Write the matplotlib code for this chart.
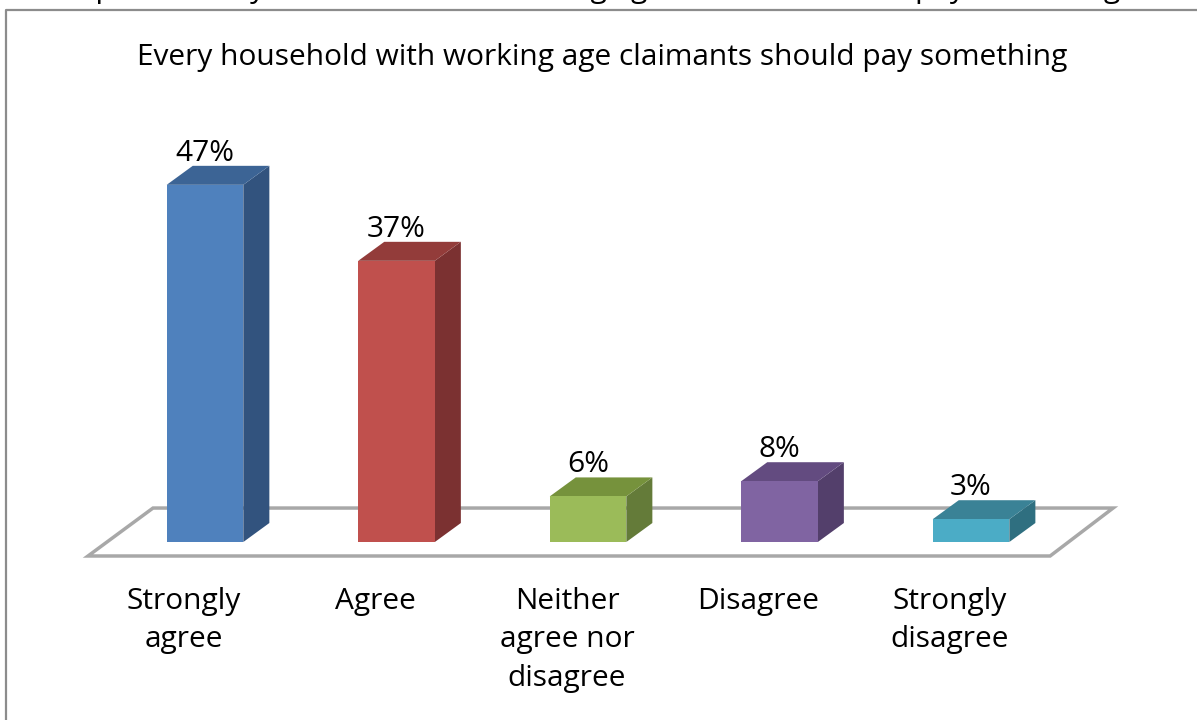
import matplotlib.pyplot as plt
from matplotlib.patches import Polygon
from matplotlib.lines import Line2D

plt.rcParams['font.family'] = ['Open Sans', 'DejaVu Sans']

categories = ["Strongly\nagree", "Agree", "Neither\nagree nor\ndisagree", "Disagree", "Strongly\ndisagree"]
values = [47, 37, 6, 8, 3]
labels = ["47%", "37%", "6%", "8%", "3%"]
front_colors = ["#4F81BD", "#C0504D", "#9BBB59", "#8064A2", "#4BACC6"]
side_colors = ["#32537e", "#7b3131", "#647b39", "#533f6b", "#2f6f80"]
top_colors = ["#3c6495", "#933c3a", "#76923c", "#634b80", "#3a8296"]

title = "Every household with working age claimants should pay something"
caption = "Graph 10: Every household with working age claimants should pay something"

fig = plt.figure(figsize=(11.97, 7.2), dpi=100)
ax = fig.add_axes([0, 0, 1, 1])
ax.set_xlim(-1.0705, 5.180)
ax.set_ylim(-23.42, 71.32)
ax.axis("off")

width = 0.40      # front face width (category units)
ddx = 0.136       # depth offset, x
ddy = 2.5         # depth offset, y (percent units)
fs = 21.5

# floor of the 3-D plot area
floor = Polygon([(-0.611, -1.84), (4.413, -1.84), (4.742, 4.47), (-0.2715, 4.47)],
                closed=True, facecolor="white", edgecolor="#a8a8a8", linewidth=2.5,
                zorder=1, joinstyle="miter")
ax.add_patch(floor)

for i, v in enumerate(values):
    x0 = i - width / 2
    x1 = i + width / 2
    ax.bar(i, v, width=width, bottom=0, color=front_colors[i], zorder=3)
    side = Polygon([(x1, 0), (x1 + ddx, ddy), (x1 + ddx, v + ddy), (x1, v)],
                   closed=True, facecolor=side_colors[i], edgecolor="none", zorder=2)
    top = Polygon([(x0, v), (x1, v), (x1 + ddx, v + ddy), (x0 + ddx, v + ddy)],
                  closed=True, facecolor=top_colors[i], edgecolor="none", zorder=2)
    ax.add_patch(side)
    ax.add_patch(top)
    ax.text(i, v + ddy + 0.7, labels[i], ha="center", va="baseline", fontsize=fs, color="black")

for i, c in enumerate(categories):
    ax.text(i - 0.11, -5.9, c, ha="center", va="top", fontsize=fs,
            linespacing=1.43, color="black")

fig.text(602 / 1197, 1 - 57 / 720, title, ha="center", va="center", fontsize=fs)
fig.text(45 / 1197, 1 + 3 / 720, caption, ha="left", va="baseline", fontsize=fs)

# chart frame: only left and top edges fall inside the picture
fig.add_artist(Line2D([6 / 1197, 6 / 1197, 1.0], [0.0, 1 - 10 / 720, 1 - 10 / 720],
                      color="#8c8c8c", linewidth=1.6, transform=fig.transFigure))

fig.savefig("out.png", dpi=100)
